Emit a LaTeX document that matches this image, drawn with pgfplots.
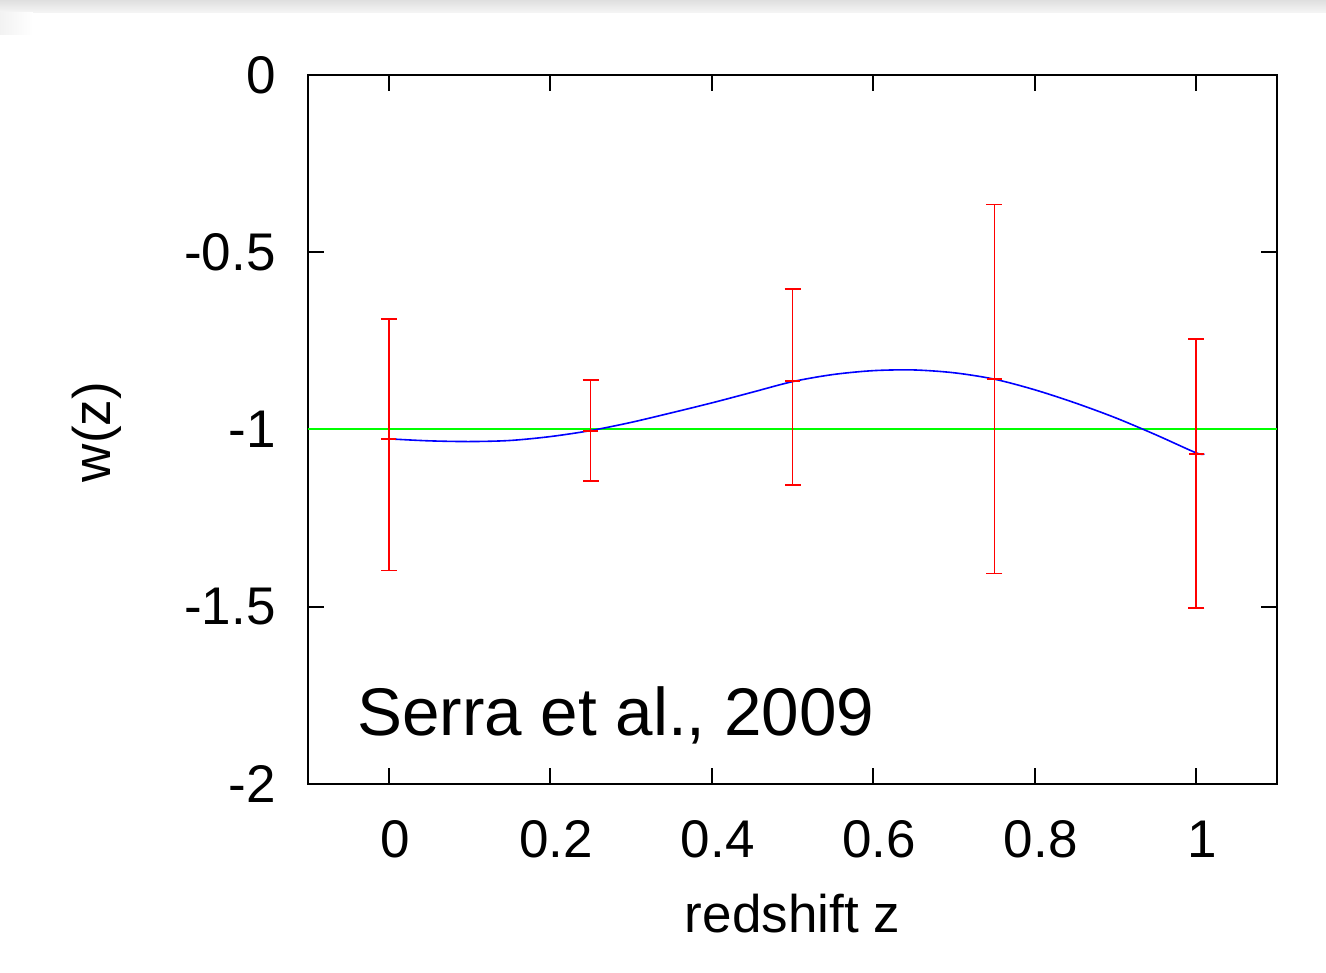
\documentclass[border=0pt]{standalone}
\usepackage{fontspec}
\setmainfont{Liberation Sans}
\usepackage{pgfplots}
\pgfplotsset{compat=1.18}
\definecolor{gpgreen}{RGB}{0,255,0}
\definecolor{gpblue}{RGB}{0,0,255}
\definecolor{gpred}{RGB}{255,0,0}
\begin{document}
\begin{tikzpicture}[x=1pt,y=1pt]
\useasboundingbox (-154,-94.5) rectangle (509,392);
\fill[white] (-154,-94.5) rectangle (509,392);
\shade[top color=gray!25, bottom color=gray!7] (-154,385.5) rectangle (509,392);
\shade[left color=gray!10, right color=white] (-154,374.5) rectangle (-137.5,385.5);
\begin{axis}[
  at={(0,0)}, anchor=south west,
  scale only axis, width=484.5pt, height=354.5pt,
  xmin=-0.1, xmax=1.1, ymin=-2, ymax=0,
  clip=false,
  xtick={0,0.2,0.4,0.6,0.8,1}, xticklabels={0,0.2,0.4,0.6,0.8,1},
  ytick={-2,-1.5,-1,-0.5,0}, yticklabels={-2,-1.5,-1,-0.5,0},
  tick align=inside, major tick length=8pt,
  tick style={black, line width=0.9pt},
  axis line style={black, line width=1.4pt},
  xticklabel style={font=\fontsize{26.5}{30}\selectfont, anchor=base, inner sep=0pt, yshift=-36.5pt, xshift=3pt},
  yticklabel style={font=\fontsize{26.5}{30}\selectfont, anchor=east, inner sep=0pt, xshift=-16pt},
  xlabel={redshift z},
  xlabel style={at={(axis description cs:0.5,-0.210)}, anchor=base, inner sep=0pt, font=\fontsize{26.5}{30}\selectfont},
  ylabel={w(z)},
  ylabel style={at={(axis description cs:-0.2043,0.4965)}, anchor=base, inner sep=0pt, font=\fontsize{26.5}{30}\selectfont},
]
\addplot[draw=gpgreen, line width=1pt, no marks] coordinates {(-0.1,-1) (1.1,-1)};
\addplot[draw=gpblue, line width=0.8pt, smooth, no marks] coordinates {
(0.005,-1.027) (0.05,-1.032) (0.1,-1.034) (0.15,-1.031) (0.2,-1.020)
(0.25,-1.003) (0.3,-0.980) (0.35,-0.953) (0.4,-0.925) (0.45,-0.895)
(0.5,-0.865) (0.55,-0.845) (0.6,-0.834) (0.65,-0.832) (0.7,-0.840)
(0.75,-0.858) (0.8,-0.888) (0.85,-0.925) (0.9,-0.967) (0.95,-1.015)
(1.0,-1.066) (1.01,-1.069)};
\addplot[color=gpred, line width=0.8pt, only marks, mark=-, mark size=3.8pt,
  error bars/.cd, y dir=both, y explicit,
  error bar style={gpred, line width=0.8pt},
  error mark options={rotate=90, gpred, mark size=4pt, line width=0.8pt}]
coordinates {
(0,-1.026) += (0,0.337) -= (0,0.372)
(0.25,-1.004) += (0,0.144) -= (0,0.141)
(0.5,-0.863) += (0,0.259) -= (0,0.294)
(0.75,-0.858) += (0,0.493) -= (0,0.548)
(1.0,-1.069) += (0,0.325) -= (0,0.435)
};
\node[anchor=base west, inner sep=0pt, font=\fontsize{33.7}{40}\selectfont] at (axis cs:-0.0396,-1.862) {Serra et al., 2009};
\end{axis}
\end{tikzpicture}
\end{document}
